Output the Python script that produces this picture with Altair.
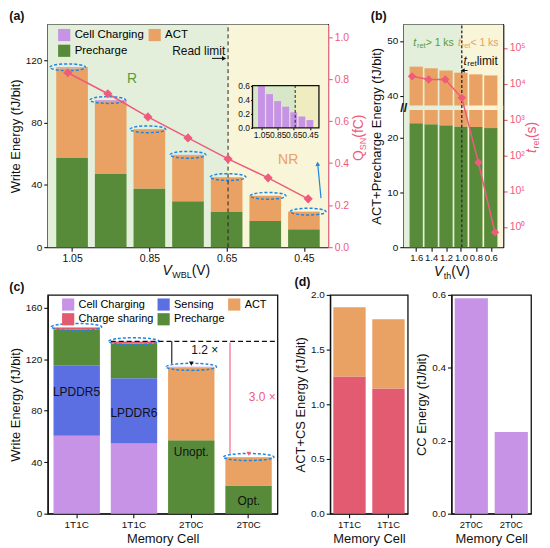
import altair as alt
import pandas as pd

FONT = "Liberation Sans, Arial, Helvetica, sans-serif"

# colours
C_CC = "#c793e6"
C_ACT = "#e9a263"
C_PRE = "#588b39"
C_SEN = "#5b6fe2"
C_CS = "#e35b70"
PINK = "#ef5b7c"
BG_G = "#e3efda"
BG_Y = "#f8f5d8"
IN_G = "#d7e7c7"
IN_Y = "#efecbf"
BLUE = "#1f86e0"
TXT_G = "#5b9a3b"
TXT_O = "#e9a062"

# ---------------- data (a)
V_WBL = [1.05, 0.95, 0.85, 0.75, 0.65, 0.55, 0.45]
A_PRE = [57.2, 47.0, 37.7, 29.5, 22.6, 16.8, 11.5]
A_ACT = [57.7, 47.0, 37.6, 29.5, 22.2, 16.0, 11.2]
A_CC = [0.60, 0.48, 0.38, 0.30, 0.22, 0.16, 0.11]
Q_SN = [0.83, 0.73, 0.62, 0.52, 0.42, 0.33, 0.23]
A_TICKS = [1.05, 0.85, 0.65, 0.45]
READ_LIMIT = 0.65

# ---------------- data (b)
V_TH = [1.6, 1.4, 1.2, 1.0, 0.8, 0.6]
B_PRE = [22.6, 22.4, 22.2, 22.0, 21.9, 21.7]
B_TOTAL = [45.3, 45.0, 44.6, 44.2, 43.9, 43.7]
T_RET = [1.6e4, 1.3e4, 1.3e4, 4.0e3, 63, 0.7]
RET_LIMIT = 1.0

# ---------------- data (c)
C_CELLS = ["1T1C-5", "1T1C-6", "2T0C-u", "2T0C-o"]
C_CC_V = [60.5, 54.6, 0.59, 0.22]
C_SEN_V = [54.8, 50.6, 0, 0]
C_PRE_V = [27.9, 27.0, 57.0, 21.8]
C_CS_V = [1.25, 1.14, 0, 0]
C_ACT_V = [0.63, 0.63, 56.5, 22.0]
C_NOTES = ["LPDDR5", "LPDDR6", "Unopt.", "Opt."]
C_NOTE_Y = [94.8, 78.3, 47.9, 9.6]

# ---------------- data (d)
D_CELLS = ["1T1C-5", "1T1C-6"]
D_CS = [1.255, 1.145]
D_ACT = [0.632, 0.632]
D2_CELLS = ["2T0C-u", "2T0C-o"]
D_CC = [0.591, 0.224]

ONE = pd.DataFrame({"k": [0]})

W_EM = {' ': 0.278, '(': 0.333, ')': 0.333, '+': 0.584, '.': 0.278, '<': 0.584, '>': 0.584,
        'A': 0.667, 'B': 0.667, 'C': 0.722, 'L': 0.556, 'N': 0.722, 'Q': 0.778, 'S': 0.667,
        'T': 0.611, 'V': 0.667, 'W': 0.944, 'e': 0.556, 'f': 0.278, 'h': 0.556, 'i': 0.222,
        'k': 0.5, 'l': 0.222, 'm': 0.833, 'r': 0.333, 's': 0.5, 't': 0.278}


def tw(s, size):
    return sum(W_EM.get(c, 0.556) for c in s) * size


def rich(pieces, x, y, color="#111", angle=0, anchor="center"):
    widths = [tw(t, s) for t, s, _, _ in pieces]
    cur = -sum(widths) / 2 if anchor == "center" else 0
    out = []
    for (t, s, dy, it), w in zip(pieces, widths):
        out.append(alt.Chart(ONE).mark_text(
            text=t, fontSize=s, dx=cur, dy=dy, align="left", baseline="middle",
            angle=angle, color=color, fontStyle="italic" if it else "normal", font=FONT
        ).encode(x=x, y=y))
        cur += w + (0.6 if it else 0)
    return out


def sc(domain, **kw):
    return alt.Scale(domain=list(domain), nice=False, zero=False, **kw)


def ell(ry):
    return f"M-1,0A1,{ry},0,1,1,1,0A1,{ry},0,1,1,-1,0Z"


TITLE_KW = dict(anchor="start", offset=1, fontSize=12.5)

# =============================== panel (a)
AW, AH = 282, 224
A_XDOM = [1.10, 0.40]
A_YDOM = [0, 143]
Q_DOM = [0, 1.06]
I_YDOM = [0, 0.6]
step_a = AW / len(V_WBL)
BAR_A = 0.79 * step_a
IX0, IX1 = 0.73 * AW, 0.967 * AW
IY_TOP, IY_BOT = 0.275 * AH, 0.464 * AH

sxa = sc(A_XDOM)
sya = sc(A_YDOM)
sqa = sc(Q_DOM)
sxi = sc(A_XDOM, range=[IX0, IX1])
syi = sc(I_YDOM, range=[IY_BOT, IY_TOP])

a_tot = [p + a + c for p, a, c in zip(A_PRE, A_ACT, A_CC)]
a_df = pd.DataFrame({"v": V_WBL, "q": Q_SN, "cc": A_CC, "tot": a_tot})
a_long = pd.DataFrame([
    {"v": v, "comp": n, "val": arr[i], "ord": k}
    for i, v in enumerate(V_WBL)
    for k, (n, arr) in enumerate([("Precharge", A_PRE), ("ACT", A_ACT), ("Cell Charging", A_CC)])
])
COMP_A = ["Cell Charging", "ACT", "Precharge"]


def XA(f="x:Q", s=sxa):
    return alt.X(f, scale=s, axis=None)


def YA(f="y:Q", s=sya):
    return alt.Y(f, scale=s, axis=None)


a_layers = []
for x0, x1, col in [(A_XDOM[0], READ_LIMIT, BG_G), (READ_LIMIT, A_XDOM[1], BG_Y)]:
    a_layers.append(alt.Chart(pd.DataFrame({"x0": [x0], "x1": [x1], "y0": [A_YDOM[0]], "y1": [A_YDOM[1]]}))
                    .mark_rect(color=col).encode(x=XA("x0:Q"), x2="x1", y=YA("y0:Q"), y2="y1"))

a_layers.append(alt.Chart(a_long).mark_bar(size=BAR_A).encode(
    x=alt.X("v:Q", scale=sxa, axis=alt.Axis(values=A_TICKS, format=".2f", title=None, labelOverlap=False,
                                            labelFontSize=10.5)),
    y=alt.Y("val:Q", stack="zero", scale=sya,
            axis=alt.Axis(values=[0, 40, 80, 120], title="Write Energy (fJ/bit)")),
    color=alt.Color("comp:N", scale=alt.Scale(domain=COMP_A, range=[C_CC, C_ACT, C_PRE]),
                    legend=alt.Legend(orient="none", legendX=10, legendY=4, columns=2, direction="horizontal",
                                      title=None, symbolType="square", symbolSize=150, labelFontSize=11.5,
                                      columnPadding=4, rowPadding=3, labelOffset=4, symbolStrokeWidth=0,
                                      symbolOpacity=1)),
    order=alt.Order("ord:Q")))

a_layers.append(alt.Chart(a_df).mark_point(shape=ell(0.19), size=(BAR_A + 4) ** 2, filled=False, stroke=BLUE,
                                           strokeWidth=1.5, strokeDash=[3, 2], opacity=1)
                .encode(x=XA("v:Q"), y=YA("tot:Q")))

a_layers.append(alt.Chart(pd.DataFrame({"x": [READ_LIMIT], "y0": [A_YDOM[0]], "y1": [A_YDOM[1]]}))
                .mark_rule(color="#222", strokeDash=[4, 3], strokeWidth=1)
                .encode(x=XA("x:Q"), y=YA("y0:Q"), y2="y1"))

# Q_SN line
a_layers.append(alt.Chart(a_df).mark_line(color=PINK, strokeWidth=1.5).encode(
    x=XA("v:Q"),
    y=alt.Y("q:Q", scale=sqa, axis=alt.Axis(orient="right", values=[0, 0.2, 0.4, 0.6, 0.8, 1.0], format=".1f",
                                            labelColor=PINK, tickColor=PINK, domainColor=PINK, title=None,
                                            labelFontSize=10.5))))
a_layers.append(alt.Chart(a_df).mark_point(shape="diamond", filled=True, size=85, color=PINK, opacity=1)
                .encode(x=XA("v:Q"), y=YA("q:Q", sqa)))

# inset
for x0, x1, col in [(A_XDOM[0], READ_LIMIT, IN_G), (READ_LIMIT, A_XDOM[1], IN_Y)]:
    a_layers.append(alt.Chart(pd.DataFrame({"x0": [x0], "x1": [x1], "y0": [I_YDOM[0]], "y1": [I_YDOM[1]]}))
                    .mark_rect(color=col).encode(x=XA("x0:Q", sxi), x2="x1", y=YA("y0:Q", syi), y2="y1"))
a_layers.append(alt.Chart(a_df).mark_bar(size=0.72 * (IX1 - IX0) / len(V_WBL), color=C_CC).encode(
    x=alt.X("v:Q", scale=sxi, axis=alt.Axis(orient="bottom", offset=IY_BOT - AH, values=A_TICKS, format=".2f",
                                            labelFontSize=8.5, tickSize=2, labelPadding=1, labelOverlap=False,
                                            title=None, domain=False, zindex=2)),
    y=alt.Y("cc:Q", scale=syi, axis=alt.Axis(orient="left", offset=-IX0, values=[0, 0.2, 0.4, 0.6], format=".1f",
                                             labelFontSize=8.5, tickSize=2, labelPadding=1, title=None,
                                             domain=False, zindex=2))))
a_layers.append(alt.Chart(pd.DataFrame({"x": [READ_LIMIT], "y0": [I_YDOM[0]], "y1": [I_YDOM[1]]}))
                .mark_rule(color="#222", strokeDash=[3, 2], strokeWidth=1)
                .encode(x=XA("x:Q", sxi), y=YA("y0:Q", syi), y2="y1"))
a_layers.append(alt.Chart(pd.DataFrame({"x0": [A_XDOM[0]], "x1": [A_XDOM[1]], "y0": [I_YDOM[0]], "y1": [I_YDOM[1]]}))
                .mark_rect(fillOpacity=0, stroke="#111", strokeWidth=1.3)
                .encode(x=XA("x0:Q", sxi), x2="x1", y=YA("y0:Q", syi), y2="y1"))

# annotations (a)
a_layers.append(alt.Chart(pd.DataFrame({"x": [0.89], "y": [108]})).mark_text(text="R", color=TXT_G, fontSize=14)
                .encode(x=XA(), y=YA()))
a_layers.append(alt.Chart(pd.DataFrame({"x": [0.50], "y": [56]})).mark_text(text="NR", color=TXT_O, fontSize=14)
                .encode(x=XA(), y=YA()))
a_layers.append(alt.Chart(pd.DataFrame({"x": [0.657], "y": [126]}))
                .mark_text(text="Read limit", color="#111", fontSize=12, align="right").encode(x=XA(), y=YA()))
a_layers.append(alt.Chart(pd.DataFrame({"x": [0.69], "x2": [0.662], "y": [121.2]}))
                .mark_rule(color="#111", strokeWidth=1).encode(x=XA(), x2="x2", y=YA()))
a_layers.append(alt.Chart(pd.DataFrame({"x": [0.660], "y": [121.2]}))
                .mark_point(shape="triangle-right", filled=True, size=22, color="#111", opacity=1)
                .encode(x=XA(), y=YA()))
a_layers.append(alt.Chart(pd.DataFrame({"x": [0.418], "x2": [0.426], "y": [31.5], "y2": [53.0]}))
                .mark_rule(color=BLUE, strokeWidth=1.2).encode(x=XA(), x2="x2", y=YA(), y2="y2"))
a_layers.append(alt.Chart(pd.DataFrame({"x": [0.4265], "y": [53.5]}))
                .mark_point(shape="triangle-up", filled=True, size=24, color=BLUE, opacity=1, angle=352)
                .encode(x=XA(), y=YA()))

a_layers += rich([("V", 14, 0, True), ("WBL", 9, 4, False), (" (V)", 14, 0, False)],
                 alt.value(AW / 2), alt.value(AH + 24))
a_layers += rich([("Q", 14, 0, False), ("SN", 9, 4, False), (" (fC)", 14, 0, False)],
                 alt.value(AW + 31), alt.value(AH / 2), color=PINK, angle=270)

A = alt.layer(*a_layers).resolve_scale(x="independent", y="independent").properties(
    width=AW, height=AH, title=alt.TitleParams("(a)", **TITLE_KW))

# =============================== panel (b)
BW, BH = 100, 224
B_XDOM = [1.7, 0.5]
B_BRK, B_GAP, B_SHIFT = 25.0, 0.8, 12.4
B_VDOM = [0, 53.0 - B_SHIFT]
T_DOM = [0.27, 4.5e5]
BAR_B = 0.8 * BW / len(V_TH)
sxb = sc(B_XDOM)
syb = sc(B_VDOM)
stb = alt.Scale(type="log", domain=T_DOM, nice=False)


def virt(f):
    return f"datum.{f} > {B_BRK} ? datum.{f} - {B_SHIFT} : datum.{f}"


b_df = pd.DataFrame({"v": V_TH, "pre": B_PRE, "tot": B_TOTAL, "t": T_RET})


def XB(f="x:Q"):
    return alt.X(f, scale=sxb, axis=None)


def YB(f="y:Q", s=syb):
    return alt.Y(f, scale=s, axis=None)


b_layers = []
bg_b = [(B_XDOM[0], RET_LIMIT, BG_G), (RET_LIMIT, B_XDOM[1], BG_Y)]
for x0, x1, col in bg_b:
    b_layers.append(alt.Chart(pd.DataFrame({"x0": [x0], "x1": [x1], "y0": [B_VDOM[0]], "y1": [B_VDOM[1]]}))
                    .mark_rect(color=col).encode(x=XB("x0:Q"), x2="x1", y=YB("y0:Q"), y2="y1"))
b_layers.append(alt.Chart(b_df).transform_calculate(prev=virt("pre")).mark_bar(size=BAR_B, color=C_PRE).encode(
    x=alt.X("v:Q", scale=sxb, axis=alt.Axis(values=V_TH, format=".1f", title=None, labelOverlap=False,
                                            labelFontSize=9.5, labelPadding=1)),
    y=alt.Y("prev:Q", scale=syb, axis=alt.Axis(
        values=[0, 10, 20, 40 - B_SHIFT, 50 - B_SHIFT], title="ACT+Precharge Energy (fJ/bit)",
        labelExpr=f"datum.value > {B_BRK} ? format(datum.value + {B_SHIFT}, '.0f') : format(datum.value, '.0f')"))))
b_layers.append(alt.Chart(b_df).transform_calculate(prev=virt("pre"), totv=virt("tot"))
                .mark_bar(size=BAR_B, color=C_ACT).encode(x=XB("v:Q"), y=YB("prev:Q"), y2="totv:Q"))
for x0, x1, col in bg_b:
    b_layers.append(alt.Chart(pd.DataFrame({"x0": [x0], "x1": [x1], "y0": [B_BRK], "y1": [B_BRK + B_GAP]}))
                    .mark_rect(color=col).encode(x=XB("x0:Q"), x2="x1", y=YB("y0:Q"), y2="y1"))
b_layers.append(alt.Chart(pd.DataFrame({"x": [B_XDOM[0]], "y": [B_BRK + B_GAP / 2]}))
                .mark_text(text="//", fontSize=13, fontWeight="bold", color="#111").encode(x=XB(), y=YB()))
b_layers.append(alt.Chart(pd.DataFrame({"x": [RET_LIMIT], "y0": [B_VDOM[0]], "y1": [B_VDOM[1]]}))
                .mark_rule(color="#333", strokeDash=[3, 2], strokeWidth=1.4)
                .encode(x=XB(), y=YB("y0:Q"), y2="y1"))
b_layers.append(alt.Chart(b_df).mark_line(color=PINK, strokeWidth=1.5).encode(
    x=XB("v:Q"),
    y=alt.Y("t:Q", scale=stb, axis=alt.Axis(
        orient="right", values=[1, 10, 100, 1000, 1e4, 1e5], title=None, labelColor=PINK, tickColor=PINK,
        labelFontSize=10.5,
        labelExpr="'10' + ['\u2070','\u00b9','\u00b2','\u00b3','\u2074','\u2075'][round(log(datum.value) / LN10)]"))))
b_layers.append(alt.Chart(b_df).mark_point(shape="diamond", filled=True, size=70, color=PINK, opacity=1)
                .encode(x=XB("v:Q"), y=YB("t:Q", stb)))
# annotations (b)
b_layers += rich([("t", 11, 0, True), ("ret", 7.5, 3, False), (" > 1 ks", 10.5, 0, False)],
                 alt.XDatum(1.585, scale=sxb, axis=None), alt.YDatum(37.3, scale=syb, axis=None),
                 color=TXT_G, anchor="left")
b_layers += rich([("t", 11, 0, True), ("ret", 7.5, 3, False), (" < 1 ks", 10.5, 0, False)],
                 alt.XDatum(1.045, scale=sxb, axis=None), alt.YDatum(37.3, scale=syb, axis=None),
                 color=TXT_O, anchor="left")
b_layers += rich([("t", 12, 0, True), ("ret", 8, 3, False), (" limit", 12, 0, False)],
                 alt.XDatum(0.98, scale=sxb, axis=None), alt.YDatum(33.9, scale=syb, axis=None),
                 color="#111", anchor="left")
b_layers.append(alt.Chart(pd.DataFrame({"x": [0.93], "x2": [0.985], "y": [32.2]}))
                .mark_rule(color="#111", strokeWidth=1).encode(x=XB(), x2="x2", y=YB()))
b_layers.append(alt.Chart(pd.DataFrame({"x": [0.988], "y": [32.2]}))
                .mark_point(shape="triangle-left", filled=True, size=20, color="#111", opacity=1)
                .encode(x=XB(), y=YB()))
b_layers += rich([("V", 14, 0, True), ("th", 9, 4, False), (" (V)", 14, 0, False)],
                 alt.value(BW / 2), alt.value(BH + 25))
b_layers += rich([("t", 14, 0, True), ("ret", 9, 4, False), (" (s)", 14, 0, False)],
                 alt.value(BW + 29), alt.value(BH / 2), color=PINK, angle=270)

B = alt.layer(*b_layers).resolve_scale(x="independent", y="independent").properties(
    width=BW, height=BH, title=alt.TitleParams("(b)", **TITLE_KW))

# =============================== panel (c)
CWD, CH = 231, 220
C_YDOM = [0, 170]
scx = alt.Scale(domain=C_CELLS, paddingInner=0.19, paddingOuter=0.1)
scy = sc(C_YDOM)
COMP_C = ["Cell Charging", "Sensing", "ACT", "Charge sharing", "Precharge"]
ORDER_1T1C = ["Cell Charging", "Sensing", "Precharge", "Charge sharing", "ACT"]
ORDER_2T0C = ["Precharge", "ACT", "Cell Charging"]
comp_vals = {"Cell Charging": C_CC_V, "Sensing": C_SEN_V, "Precharge": C_PRE_V,
             "Charge sharing": C_CS_V, "ACT": C_ACT_V}
rows = []
for i, cell in enumerate(C_CELLS):
    order = ORDER_1T1C if cell.startswith("1T1C") else ORDER_2T0C
    for k, n in enumerate(order):
        if comp_vals[n][i] > 0:
            rows.append({"cell": cell, "comp": n, "val": comp_vals[n][i], "ord": k})
c_long = pd.DataFrame(rows)
c_tot = [sum(comp_vals[n][i] for n in comp_vals) for i in range(len(C_CELLS))]
c_df = pd.DataFrame({"cell": C_CELLS, "tot": c_tot, "note": C_NOTES, "ny": C_NOTE_Y})
step_c = CWD / (len(C_CELLS) - 0.19 + 0.2)
BAND_C = 0.81 * step_c


def XC(bp=0.5):
    return alt.X("cell:N", scale=scx, axis=None, bandPosition=bp)


def YC(f="y:Q"):
    return alt.Y(f, scale=scy, axis=None)


c_layers = []
c_layers.append(alt.Chart(c_long).mark_bar().encode(
    x=alt.X("cell:N", scale=scx, axis=alt.Axis(labelExpr="substring(datum.label, 0, 4)", title="Memory Cell",
                                               labelAngle=0, labelFontSize=10)),
    y=alt.Y("val:Q", stack="zero", scale=scy, axis=alt.Axis(values=[0, 40, 80, 120, 160],
                                                             title="Write Energy (fJ/bit)")),
    color=alt.Color("comp:N", scale=alt.Scale(domain=COMP_C, range=[C_CC, C_SEN, C_ACT, C_CS, C_PRE]),
                    legend=alt.Legend(orient="none", legendX=14, legendY=3, columns=3, direction="horizontal",
                                      title=None, symbolType="square", symbolSize=150, labelFontSize=11,
                                      columnPadding=3, rowPadding=2, labelOffset=4, symbolStrokeWidth=0,
                                      symbolOpacity=1)),
    order=alt.Order("ord:Q")))
c_layers.append(alt.Chart(c_df).mark_point(shape=ell(0.14), size=(BAND_C + 4) ** 2, filled=False, stroke=BLUE,
                                           strokeWidth=1.5, strokeDash=[3, 2], opacity=1)
                .encode(x=XC(), y=YC("tot:Q")))
c_layers.append(alt.Chart(c_df).mark_text(fontSize=12, color="#111").encode(x=XC(), y=YC("ny:Q"), text="note:N"))

tot6, totu, toto = c_tot[1], c_tot[2], c_tot[3]
c_layers.append(alt.Chart(pd.DataFrame({"cell": [C_CELLS[1]], "y": [tot6]}))
                .mark_rule(color="#111", strokeDash=[5, 3], strokeWidth=1.3)
                .encode(x=XC(0), x2=alt.value(CWD), y=YC()))
for cell, y0, y1, col, bp in [(C_CELLS[2], tot6, totu + 2.5, "#111", 0.08),
                              (C_CELLS[3], tot6 - 1, toto + 2.5, PINK, 0.1)]:
    c_layers.append(alt.Chart(pd.DataFrame({"cell": [cell], "y": [y0], "y2": [y1]}))
                    .mark_rule(color=col, strokeWidth=1.1).encode(x=XC(bp), y=YC(), y2="y2"))
    c_layers.append(alt.Chart(pd.DataFrame({"cell": [cell], "y": [y1]}))
                    .mark_point(shape="triangle-down", filled=True, size=22, color=col, opacity=1)
                    .encode(x=XC(bp), y=YC()))
c_layers.append(alt.Chart(pd.DataFrame({"cell": [C_CELLS[2]], "y": [126.9], "t": [f"{tot6 / totu:.1f} \u00d7"]}))
                .mark_text(fontSize=12, color="#111", align="left").encode(x=XC(0.15), y=YC(), text="t:N"))
c_layers.append(alt.Chart(pd.DataFrame({"cell": [C_CELLS[3]], "y": [90.6], "t": [f"{tot6 / toto:.1f} \u00d7"]}))
                .mark_text(fontSize=12, color=PINK, align="left").encode(x=XC(0.15), y=YC(), text="t:N"))

C = alt.layer(*c_layers).resolve_scale(x="independent", y="independent").properties(
    width=CWD, height=CH, title=alt.TitleParams("(c)", **TITLE_KW))

# =============================== panel (d)
D1W, D2W, DH = 78, 80, 220
d_df = pd.DataFrame({"cell": D_CELLS, "cs": D_CS, "top": [a + b for a, b in zip(D_CS, D_ACT)]})
sd1x = alt.Scale(domain=D_CELLS, paddingInner=0.17, paddingOuter=0.08)
sd1y = sc([0, 2.0])
xd_axis = alt.Axis(labelExpr="substring(datum.label, 0, 4)", title="Memory Cell", labelAngle=0, labelFontSize=9.5)
D1 = alt.layer(
    alt.Chart(d_df).mark_bar(color=C_CS).encode(
        x=alt.X("cell:N", scale=sd1x, axis=xd_axis),
        y=alt.Y("cs:Q", scale=sd1y, axis=alt.Axis(values=[0, 0.5, 1.0, 1.5, 2.0], format=".1f",
                                                  title="ACT+CS Energy (fJ/bit)"))),
    alt.Chart(d_df).mark_bar(color=C_ACT).encode(
        x=alt.X("cell:N", scale=sd1x, axis=None), y=alt.Y("cs:Q", scale=sd1y, axis=None), y2="top:Q"),
).resolve_scale(x="independent", y="independent").properties(
    width=D1W, height=DH, title=alt.TitleParams("(d)", **TITLE_KW))

d2_df = pd.DataFrame({"cell": D2_CELLS, "cc": D_CC})
D2 = alt.Chart(d2_df).mark_bar(color=C_CC).encode(
    x=alt.X("cell:N", scale=alt.Scale(domain=D2_CELLS, paddingInner=0.17, paddingOuter=0.08), axis=xd_axis),
    y=alt.Y("cc:Q", scale=sc([0, 0.6]), axis=alt.Axis(values=[0, 0.2, 0.4, 0.6], format=".1f",
                                                       title="CC Energy (fJ/bit)")),
).properties(width=D2W, height=DH, title=alt.TitleParams(" ", **TITLE_KW))

top = alt.hconcat(A, B, spacing=1)
bottom = alt.hconcat(C, alt.hconcat(D1, D2, spacing=6), spacing=14)
chart = alt.vconcat(top, bottom, spacing=-7).resolve_scale(color="independent").properties(
    padding={"left": 0, "top": 0, "right": 0, "bottom": 0}
).configure_view(stroke="#111", strokeWidth=1.3).configure_axis(
    grid=False, labelFont=FONT, titleFont=FONT, labelFontSize=10, titleFontSize=13, titleFontWeight="normal",
    labelColor="#111", titleColor="#111", domainColor="#111", tickColor="#111", tickSize=4, domainWidth=1.2,
    tickWidth=1.1, labelPadding=2, titlePadding=3
).configure_legend(labelFont=FONT).configure_title(
    font=FONT, fontSize=12.5, fontWeight="bold", anchor="start", color="#111"
).configure_text(font=FONT)

chart.save("out.html", embed_options={"renderer": "svg", "actions": False})
